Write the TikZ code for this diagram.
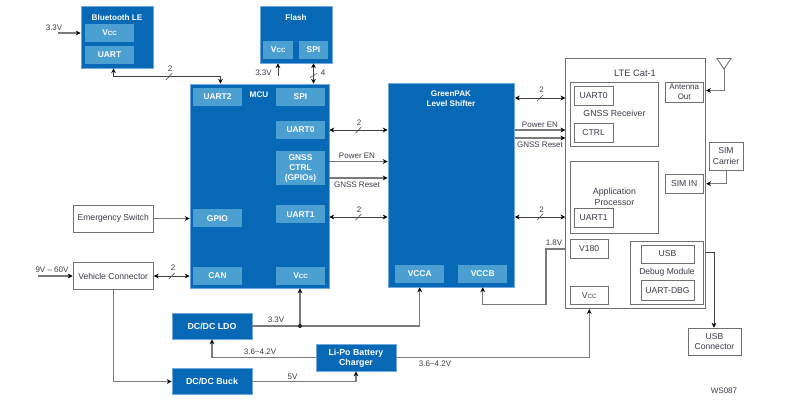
\documentclass[tikz,border=0pt]{standalone}
\usepackage{fontspec}
\setmainfont{Liberation Sans}
\usetikzlibrary{arrows.meta, calc, positioning}
\definecolor{chipblue}{HTML}{0769B5}
\definecolor{chipedge}{HTML}{6FA9DE}
\definecolor{pinblue}{HTML}{4C9FD1}
\definecolor{wireline}{HTML}{7A7A7A}
\definecolor{boxline}{HTML}{707070}
\definecolor{labelink}{HTML}{3A3A4A}
\newcommand{\vcc}{V{\fontsize{4.6}{5}\selectfont CC}}
\tikzset{
	size/.style 2 args={minimum width=#1*0.75pt, minimum height=#2*0.75pt, inner sep=0pt},
	chip/.style={rectangle, fill=chipblue, draw=chipedge, line width=0.6pt, text=white, font=\fontsize{6.6}{7.5}\selectfont\bfseries, align=center},
	pin/.style={rectangle, fill=pinblue, size={49}{18}, text=white, font=\fontsize{6.3}{7.3}\selectfont\bfseries, align=center},
	title/.style={text=white, inner sep=0pt, font=\fontsize{6.1}{7.5}\selectfont\bfseries, align=center},
	block/.style={rectangle, fill=white, draw=boxline, line width=0.65pt, text=labelink, font=\fontsize{6.45}{7.8}\selectfont, align=center},
	port/.style={block, size={38.5}{18.5}},
	tag/.style={text=labelink, inner sep=0pt, font=\fontsize{6}{7.5}\selectfont, align=center},
	arrow/.style={draw=wireline, line width=0.8pt, -{Stealth[length=3.6pt,width=3.6pt,black]}},
	both/.style={draw=black!75, line width=0.55pt, {Stealth[length=3.6pt,width=3.6pt,black]}-{Stealth[length=3.6pt,width=3.6pt,black]}},
	slash/.style={draw=black!70, line width=0.45pt},
}
\begin{document}
\begin{tikzpicture}[x=0.75pt, y=-0.75pt]
	\useasboundingbox (0,0) rectangle (800,413);
	% blue parts
	\node (Ble) [chip, size={72}{61.5}] at (117,37.2) {};
	\node (BleTitle) [title] at (117,17.5) {Bluetooth LE};
	\node (BleVcc) [pin] at (109.5,33) {\vcc};
	\node (BleUart) [pin] at (109.5,55) {UART};
	\node (Flash) [chip, size={72}{56.5}] at (296,34.7) {};
	\node (FlashTitle) [title] at (296,17.5) {Flash};
	\node (FlashVcc) [pin, size={29.5}{18}] at (278.2,50) {\vcc};
	\node (FlashSpi) [pin, size={29.5}{18}] at (313.5,50) {SPI};
	\node (Mcu) [chip, size={139}{204}] at (259.5,186) {};
	\node (McuTitle) [title] at (259,95) {MCU};
	\node (McuUart2) [pin] at (217.5,97) {UART2};
	\node (McuSpi) [pin] at (300.5,97) {SPI};
	\node (McuUart0) [pin] at (300.5,130) {UART0};
	\node (McuGnss) [pin, size={49}{34}] at (300.5,168.5) {GNSS\\CTRL\\(GPIOs)};
	\node (McuUart1) [pin] at (300.5,214.5) {UART1};
	\node (McuGpio) [pin] at (217.5,218.5) {GPIO};
	\node (McuCan) [pin] at (217.5,276) {CAN};
	\node (McuVcc) [pin] at (300.5,276) {\vcc};
	\node (Shifter) [chip, size={126.5}{204}] at (451.2,185) {};
	\node (ShifterTitle) [title] at (451,98.5) {GreenPAK\\Level Shifter};
	\node (ShifterVcca) [pin] at (419.7,274) {VCCA};
	\node (ShifterVccb) [pin] at (482.7,274) {VCCB};
	\node (Ldo) [chip, size={80}{26}] at (212,326) {DC/DC LDO};
	\node (Buck) [chip, size={80}{26}] at (212,381.5) {DC/DC Buck};
	\node (Charger) [chip, size={80}{26.5}] at (356,357.8) {Li-Po Battery\\Charger};
	% white parts
	\node (Lte) [block, size={140}{250}] at (635.7,183.7) {};
	\node (LteTitle) [tag, font=\fontsize{7}{8}\selectfont] at (635,73.5) {LTE Cat-1};
	\node (Receiver) [block, size={88.5}{64}] at (614.2,114) {};
	\node (ReceiverTitle) [tag, font=\fontsize{6.6}{8}\selectfont] at (614.5,113.5) {GNSS Receiver};
	\node (LteUart0) [port] at (593.7,95.7) {UART0};
	\node (LteCtrl) [port] at (593.7,132.7) {CTRL};
	\node (AntennaOut) [port, size={38.5}{20}, font=\fontsize{6}{7.6}\selectfont] at (684.2,92) {Antenna\\Out};
	\node (Processor) [block, size={88.5}{71.5}] at (614.2,197.5) {};
	\node (ProcessorTitle) [tag, font=\fontsize{6.6}{8}\selectfont] at (614.5,197) {Application\\Processor};
	\node (LteUart1) [port] at (593.7,217.7) {UART1};
	\node (SimIn) [port] at (684.2,183.7) {SIM IN};
	\node (V180) [port] at (589.2,249) {V180};
	\node (LteVcc) [port] at (589.2,295.2) {\vcc};
	\node (Debug) [block, size={72.8}{63.5}] at (667.1,272.8) {};
	\node (DebugTitle) [tag, font=\fontsize{6.4}{8}\selectfont] at (667,272) {Debug Module};
	\node (DebugUsb) [port, size={53}{18}] at (667.5,254) {USB};
	\node (DebugUart) [port, size={53}{20}] at (667.5,290.5) {UART-DBG};
	\node (SimCarrier) [block, size={34}{27.5}] at (726,156.2) {SIM\\Carrier};
	\node (UsbConn) [block, size={53}{27}] at (714.5,341.5) {USB\\Connector};
	\node (Emergency) [block, size={80.5}{27}] at (113.2,218.5) {Emergency Switch};
	\node (Vehicle) [block, size={80.5}{27}] at (113.2,276) {Vehicle Connector};
	% antenna
	\coordinate (AntennaFoot) at (724,90.5);
	\draw [boxline, line width=0.65pt] (724,69) -- (717,58.5) -- (731,58.5) -- cycle;
	\draw [arrow, line width=0.65pt] (724,69) -- (AntennaFoot) -- (AntennaFoot -| Lte.east);
	% free ends and turns
	\coordinate (InBle) at (57.5,33);
	\coordinate (InVehicle) at (37.5,276);
	\coordinate (InFlash) at (278,76.5);
	\coordinate (BleTurn) at (113.5,76.5);
	\coordinate (McuTurn) at (220.5,76.5);
	\coordinate (PowerEn) at (329,161.5);
	\coordinate (GnssReset) at (329,178);
	\coordinate (PowerEnLte) at (514.5,130);
	\coordinate (GnssResetLte) at (514.5,138);
	\coordinate (BusLte) at (515,98);
	\coordinate (BusMid) at (330,217);
	\coordinate (RailTap) at (300,326);
	\coordinate (Rail18) at (546,304.5);
	\coordinate (UsbTurn) at (714,252.5);
	\coordinate (SimTurn) at (726,183.7);
	% connectors
	\draw [arrow] (InBle) -- (InBle -| Ble.west);
	\draw [arrow, black!75, line width=0.65pt] (InFlash) -- (InFlash |- Flash.south);
	\draw [both] (BleTurn |- Ble.south) -- (BleTurn) -- coordinate[pos=0.52] (BleBus) (McuTurn) -- (McuTurn |- Mcu.north);
	\draw [both] (FlashSpi |- Flash.south) -- coordinate[pos=0.6] (SpiBus) (FlashSpi |- Mcu.north);
	\draw [both] (McuUart0 -| Mcu.east) -- coordinate (Uart0Bus) (McuUart0 -| Shifter.west);
	\draw [both] (BusMid -| Mcu.east) -- coordinate (Uart1Bus) (BusMid -| Shifter.west);
	\draw [both] (BusLte) -- coordinate (LteBus) (BusLte -| Lte.west);
	\draw [both] (BusMid -| Shifter.east) -- coordinate (LteBus1) (BusMid -| Lte.west);
	\draw [both] (McuCan -| Vehicle.east) -- coordinate (CanBus) (McuCan -| Mcu.west);
	\draw [arrow] (PowerEn) -- (PowerEn -| Shifter.west);
	\draw [arrow] (GnssReset) -- (GnssReset -| Shifter.west);
	\draw [arrow] (PowerEnLte) -- (PowerEnLte -| Lte.west);
	\draw [arrow] (GnssResetLte) -- (GnssResetLte -| Lte.west);
	\draw [arrow] (Emergency) -- (McuGpio -| Mcu.west);
	\draw [arrow] (InVehicle) -- (Vehicle);
	\draw [arrow] (Vehicle) |- (Buck);
	\draw [arrow] (Ldo) -| (ShifterVcca |- Shifter.south);
	\draw [arrow] (RailTap) -- (RailTap |- Mcu.south);
	\fill [black!85] (RailTap) circle (2);
	\draw [arrow] (Charger) -| (Ldo);
	\draw [arrow] (Buck) -| (Charger);
	\draw [arrow] (Charger) -| (LteVcc |- Lte.south);
	\draw [arrow] (V180 -| Lte.west) -| (Rail18) -| (ShifterVccb |- Shifter.south);
	\draw [arrow, black!75, line width=0.65pt] (UsbTurn -| Lte.east) -- (UsbTurn) -- (UsbConn.north -| UsbTurn);
	\draw [arrow, line width=0.65pt] (SimCarrier) -- (SimTurn) -- (SimIn -| Lte.east);
	% bus slashes
	\foreach \bus in {BleBus, Uart0Bus, Uart1Bus, LteBus, LteBus1, CanBus}
		\draw [slash] ($(\bus)+(-3,3.2)$) -- ($(\bus)+(3,-3.2)$);
	\draw [slash] ($(SpiBus)+(-3.2,2)$) -- ($(SpiBus)+(3.2,-2)$);
	% labels
	\node (TagBle) [tag] at (54,27.5) {3.3V};
	\node (TagFlash) [tag] at (263.5,73) {3.3V};
	\node (TagBle2) [tag] at (170,69) {2};
	\node (TagSpi) [tag] at (323,72.5) {4};
	\node (TagUart0) [tag] at (359,123) {2};
	\node (TagUart1) [tag] at (359,210) {2};
	\node (TagPower) [tag] at (357,156) {Power EN};
	\node (TagReset) [tag] at (357,184.5) {GNSS Reset};
	\node (TagLte) [tag] at (541.5,90) {2};
	\node (TagLte1) [tag] at (541.5,210) {2};
	\node (TagPowerLte) [tag] at (540,125) {Power EN};
	\node (TagResetLte) [tag] at (540,144.5) {GNSS Reset};
	\node (TagCan) [tag] at (173,268) {2};
	\node (TagIn) [tag] at (52,269.5) {9V -- 60V};
	\node (TagLdo) [tag] at (276,320) {3.3V};
	\node (TagCharger) [tag] at (260,352) {3.6\textasciitilde4.2V};
	\node (TagBuck) [tag] at (292.5,376.5) {5V};
	\node (TagLteVcc) [tag] at (435,364) {3.6\textasciitilde4.2V};
	\node (TagV180) [tag] at (554,243) {1.8V};
	\node (TagCode) [tag] at (724,391) {WS087};
\end{tikzpicture}
\end{document}
